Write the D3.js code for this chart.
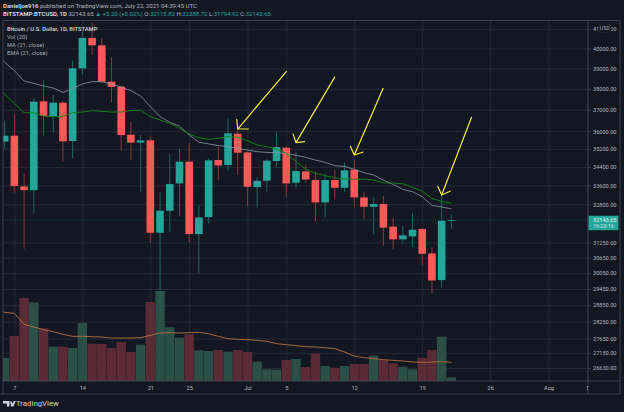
<!DOCTYPE html>
<html>
<head>
<meta charset="utf-8">
<script src="https://cdnjs.cloudflare.com/ajax/libs/d3/7.8.5/d3.min.js"></script>
<style>
html, body { margin: 0; padding: 0; background: #131722; overflow: hidden; }
text { font-family: Roboto, "Open Sans", sans-serif; }
.grid line { stroke: #2a2e39; stroke-width: 0.8; }
.grid .domain { display: none; }
.axis text { fill: #b2b5be; font-size: 5.6px; }
.axis line { stroke: #434651; stroke-width: 0.8; }
.axis .domain { display: none; }
</style>
</head>
<body>
<svg id="chart" width="624" height="412"></svg>
<script>
// first candle is Jun 6, the lines start one day earlier (clipped at the left edge)
var firstCandle = new Date(Date.UTC(2021, 5, 6))
var firstLine = new Date(Date.UTC(2021, 5, 5))

var openPrices = [35527, 35797, 33557, 33400, 37397, 36704, 37334, 35555, 39003, 40542,
    40162, 38345, 38105, 35842, 35484, 35585, 31634, 32535, 33686, 34632,
    31581, 32271, 34704, 34482, 35887, 35043, 33529, 33800, 34660, 35253,
    33715, 34206, 33830, 32881, 33830, 33500, 34279, 33092, 32700, 32813,
    31881, 31372, 31489, 31785, 30813, 29783, 32115.82]
var highPrices = [36488, 36799, 34088, 37540, 38428, 37702, 37413, 39384, 40865, 41330,
    40525, 39555, 38137, 36441, 35827, 35782, 33300, 34970, 35223, 35484,
    32728, 34778, 35298, 36611, 36133, 35073, 33972, 34748, 35948, 35298,
    35073, 34482, 34192, 34120, 34265, 34602, 34704, 33332, 33120, 33165,
    32244, 31929, 32424, 31853, 31060, 33260, 32388.72]
var lowPrices = [35223, 33286, 30995, 32424, 35797, 35948, 34632, 34778, 38724, 39670,
    38300, 37334, 35118, 34704, 33332, 31235, 28594, 31661, 32313, 31260,
    30064, 32011, 33830, 34236, 34048, 32700, 32673, 33332, 34380, 33120,
    33516, 33715, 32093, 32285, 33006, 33332, 32673, 32175, 31568, 31115,
    30995, 31195, 31075, 30370, 29280, 29495, 31794.92]
var closePrices = [35797, 33572, 33400, 37381, 36704, 37334, 35540, 39003, 40542, 40162,
    38345, 38092, 35827, 35484, 35585, 31634, 32535, 33657, 34632, 31581,
    32258, 34690, 34467, 35902, 35028, 33543, 33800, 34675, 35283, 33686,
    34220, 33858, 32881, 33830, 33500, 34250, 33092, 32700, 32813, 31840,
    31372, 31529, 31757, 30800, 29770, 32120, 32143.65]
var volumes = [2760, 5400, 9960, 9440, 6320, 4120, 4120, 3960, 6960, 4480,
    4440, 3960, 4680, 3480, 4360, 9480, 10800, 6440, 5200, 5600,
    3680, 3600, 3720, 3520, 3720, 3480, 2320, 1400, 1360, 2520,
    2640, 1680, 3280, 1800, 1600, 1800, 2040, 2040, 3040, 2520,
    2120, 1720, 1400, 2760, 3720, 5320, 440]

var maValues = [39790, 39302, 38888, 38377, 38264, 38137, 38040, 37815, 38024, 38232,
    38345, 38345, 38232, 38073, 37911, 37653, 37148, 36673, 36410, 36241,
    35827, 35499, 35425, 35350, 35298, 35223, 35148, 35073, 35043, 35028,
    34998, 34910, 34822, 34704, 34602, 34453, 34424, 34294, 34148, 34048,
    33830, 33643, 33430, 33332, 33120, 32756, 32687, 32618]
var emaValues = [38216, 37732, 37304, 36860, 36860, 36704, 36673, 36689, 36860, 36892,
    36955, 36924, 36892, 36892, 36970, 36970, 36673, 36519, 36364, 36133,
    35872, 35707, 35632, 35677, 35752, 35722, 35570, 35373, 35298, 35193,
    34998, 34632, 34308, 34120, 34019, 33932, 33873, 33859, 33873, 33830,
    33715, 33700, 33672, 33516, 33360, 33048, 32923, 32853]
var volMaValues = [8360, 8240, 8120, 6800, 6480, 6160, 5920, 5600, 5360, 5360,
    5320, 5280, 5160, 5160, 5160, 5200, 5480, 5760, 5800, 5760,
    5800, 5840, 5680, 5360, 5080, 5000, 4960, 4880, 4760, 4480,
    4360, 4240, 4120, 4080, 4000, 3880, 3480, 3000, 2800, 2680,
    2560, 2480, 2400, 2280, 2240, 2280, 2320, 2240]

var priceTicks = [41000, 40000, 39000, 38000, 37000, 36000, 35200, 34400, 33600, 32800,
    31250, 30650, 30050, 29450, 28850, 28250, 27650, 27150, 26630]
var timeTicks = [new Date(Date.UTC(2021, 5, 7)), new Date(Date.UTC(2021, 5, 14)),
    new Date(Date.UTC(2021, 5, 21)), new Date(Date.UTC(2021, 5, 25)),
    new Date(Date.UTC(2021, 6, 1)), new Date(Date.UTC(2021, 6, 5)),
    new Date(Date.UTC(2021, 6, 12)), new Date(Date.UTC(2021, 6, 19)),
    new Date(Date.UTC(2021, 6, 26)), new Date(Date.UTC(2021, 7, 1)),
    new Date(Date.UTC(2021, 7, 5))]
var timeLabels = ["7", "14", "21", "25", "Jul", "5", "12", "19", "26", "Aug", "5"]

var lastPrice = 32143.65

// arrows hang off a day and a price, the rest of the stroke is hand drawn
var arrowTips = [{ day: new Date(Date.UTC(2021, 5, 30)), price: 36102 },
                 { day: new Date(Date.UTC(2021, 6, 6)), price: 35484 },
                 { day: new Date(Date.UTC(2021, 6, 12)), price: 34926 },
                 { day: new Date(Date.UTC(2021, 6, 21)), price: 33190 }]

var left = 3, top_ = 20.5, right = 588, bottom = 381, axisBottom = 394, outer = 620
var bg = "#131722", up = "#26a69a", down = "#f85a58"

var x = d3.scaleUtc()
    .domain([new Date(Date.UTC(2021, 5, 7)), new Date(Date.UTC(2021, 7, 5))])
    .range([14.4, 587.3])
var y = d3.scaleLog().domain([26630, 40000]).range([368, 48.5])
var yVol = d3.scaleLinear().domain([0, 12000]).range([bottom, 281])

var candles = openPrices.map(function(o, i) {
    return { day: d3.utcDay.offset(firstCandle, i), open: o, high: highPrices[i], low: lowPrices[i], close: closePrices[i], vol: volumes[i] }
})
var lineDay = function(i) { return d3.utcDay.offset(firstLine, i) }

var svg = d3.select("#chart")

svg.append("rect").attr("width", 624).attr("height", 412).attr("fill", bg)

svg.append("clipPath").attr("id", "plot")
    .append("rect").attr("x", left).attr("y", top_).attr("width", right - left).attr("height", bottom - top_)
svg.append("clipPath").attr("id", "timeClip")
    .append("rect").attr("x", left).attr("y", bottom).attr("width", right - left).attr("height", axisBottom - bottom)

// grid
svg.append("g").attr("class", "grid")
    .attr("transform", "translate(" + left + ",0)")
    .call(d3.axisLeft(y).tickValues(priceTicks).tickSize(-(right - left)).tickFormat(""))
svg.append("g").attr("class", "grid")
    .attr("transform", "translate(0," + bottom + ")")
    .call(d3.axisBottom(x).tickValues(timeTicks).tickSize(-(bottom - top_)).tickFormat(""))
svg.append("line").attr("x1", left).attr("x2", right)
    .attr("y1", y(lastPrice)).attr("y2", y(lastPrice))
    .attr("stroke", up).attr("stroke-opacity", 0.45).attr("stroke-width", 0.7).attr("stroke-dasharray", "1,1")

var plot = svg.append("g").attr("clip-path", "url(#plot)")

// volume
plot.selectAll("rect.vol").data(candles).enter().append("rect")
    .attr("class", "vol")
    .attr("x", function(d) { return x(d.day) - 4.7 })
    .attr("width", 9.4)
    .attr("y", function(d) { return yVol(d.vol) })
    .attr("height", function(d) { return bottom - yVol(d.vol) })
    .attr("fill", function(d) { return d.close >= d.open ? "#2a4f47" : "#5c2a36" })

var line = function(scale) {
    return d3.line().x(function(d, i) { return x(lineDay(i)) }).y(function(d) { return scale(d) })
}
plot.append("path").attr("d", line(yVol)(volMaValues))
    .attr("fill", "none").attr("stroke", "#b5713c").attr("stroke-width", 0.9)

// candles
plot.selectAll("line.wick").data(candles).enter().append("line")
    .attr("class", "wick")
    .attr("x1", function(d) { return x(d.day) }).attr("x2", function(d) { return x(d.day) })
    .attr("y1", function(d) { return y(d.high) }).attr("y2", function(d) { return y(d.low) })
    .attr("stroke", function(d) { return d.close >= d.open ? "#1c6f68" : "#9a3a40" })
    .attr("stroke-width", 0.9)
plot.selectAll("rect.body").data(candles).enter().append("rect")
    .attr("class", "body")
    .attr("x", function(d) { return x(d.day) - 3.8 })
    .attr("width", 7.6)
    .attr("y", function(d) { return y(Math.max(d.open, d.close)) })
    .attr("height", function(d) { return Math.max(0.7, Math.abs(y(d.open) - y(d.close))) })
    .attr("fill", function(d) { return d.close >= d.open ? up : down })

plot.append("path").attr("d", line(y)(maValues))
    .attr("fill", "none").attr("stroke", "#8c97ab").attr("stroke-width", 0.8)
plot.append("path").attr("d", line(y)(emaValues))
    .attr("fill", "none").attr("stroke", "#0d8a12").attr("stroke-width", 0.9)

// yellow arrows: [tail, head end 1, head end 2] as offsets from the tip
var arrowStrokes = [[[49, -58], [-1, -10], [11, 0]],
                    [[39, -66], [-3, -9], [9, -1]],
                    [[29, -67], [-4, -9], [9, -3]],
                    [[30, -78], [-4, -9], [9, -4]]]
arrowTips.forEach(function(tip, i) {
    var tx = x(tip.day), ty = y(tip.price), s = arrowStrokes[i]
    svg.append("path")
        .attr("d", "M" + (tx + s[0][0]) + "," + (ty + s[0][1]) + "L" + tx + "," + ty +
            "M" + (tx + s[1][0]) + "," + (ty + s[1][1]) + "L" + tx + "," + ty + "L" + (tx + s[2][0]) + "," + (ty + s[2][1]))
        .attr("fill", "none").attr("stroke", "#f5ea3a").attr("stroke-width", 1.2)
})

// frame
var frame = [[left, top_, outer, top_], [left, top_, left, axisBottom], [right, top_, right, axisBottom],
             [left, bottom, outer, bottom], [0, axisBottom, outer, axisBottom], [outer, top_, outer, axisBottom]]
svg.selectAll("line.frame").data(frame).enter().append("line")
    .attr("class", "frame")
    .attr("x1", function(d) { return d[0] }).attr("y1", function(d) { return d[1] })
    .attr("x2", function(d) { return d[2] }).attr("y2", function(d) { return d[3] })
    .attr("stroke", "#434651").attr("stroke-width", 0.9)

// axes
svg.append("g").attr("class", "axis")
    .attr("transform", "translate(" + right + ",0)")
    .call(d3.axisRight(y).tickValues(priceTicks).tickSize(3).tickPadding(2).tickFormat(d3.format(".2f")))
var timeAxis = svg.append("g").attr("class", "axis").attr("clip-path", "url(#timeClip)")
    .append("g").attr("transform", "translate(0," + bottom + ")")
    .call(d3.axisBottom(x).tickValues(timeTicks).tickSize(0).tickPadding(5)
        .tickFormat(function(d, i) { return timeLabels[i] }))

// USD pill and last price tag
svg.append("rect").attr("x", 598.5).attr("y", 24).attr("width", 12.5).attr("height", 8.4).attr("rx", 3)
    .attr("fill", bg).attr("stroke", "#2a2e39").attr("stroke-width", 0.6)
svg.append("text").attr("x", 604.8).attr("y", 30).attr("text-anchor", "middle")
    .attr("fill", "#b2b5be").style("font-size", "5.2px").text("USD")
svg.append("rect").attr("x", 588.5).attr("y", y(lastPrice) - 4.5).attr("width", 30).attr("height", 14.5).attr("fill", up)
svg.append("text").attr("x", 593).attr("y", y(lastPrice) + 2).attr("fill", "#e8f5f3").style("font-size", "5.6px").text(d3.format(".2f")(lastPrice))
svg.append("text").attr("x", 593).attr("y", y(lastPrice) + 8).attr("fill", "#c4e6e2").style("font-size", "5.4px").text("19:20:16")

// header
svg.append("text").attr("x", 3).attr("y", 8).attr("fill", "#b2b5be").style("font-size", "6px")
    .html('<tspan font-weight="700" fill="#d1d4dc">Danieljoe916</tspan> published on TradingView.com, July 22, 2021 04:39:45 UTC')
svg.append("text").attr("x", 3).attr("y", 16).attr("fill", up).style("font-size", "6px")
    .html('<tspan font-weight="700" fill="#d1d4dc">BITSTAMP:BTCUSD, 1D</tspan> <tspan fill="#b2b5be">32143.65</tspan> ▲ +5.20 (+0.02%) <tspan fill="#b2b5be">O:</tspan>32115.82 <tspan fill="#b2b5be">H:</tspan>32388.72 <tspan fill="#b2b5be">L:</tspan>31794.92 <tspan fill="#b2b5be">C:</tspan>32143.65')

// legend
var legend = ["Bitcoin / U.S. Dollar, 1D, BITSTAMP", "Vol (20)", "MA (21, close)", "EMA (21, close)"]
svg.selectAll("text.legend").data(legend).enter().append("text")
    .attr("class", "legend")
    .attr("x", 7).attr("y", function(d, i) { return 30.5 + i * 8 })
    .attr("fill", function(d, i) { return i == 0 ? "#d1d4dc" : "#a9acb5" })
    .style("font-size", "5.8px").style("font-weight", function(d, i) { return i == 0 ? 500 : 400 })
    .text(function(d) { return d })

// footer logo
svg.append("path").attr("d", "M3,401h6.5v5.5h-2.6v-3h-3.9zM10,401.5h1.6l1,2.2l1.2,-2.7h2l-2.5,5.5h-2z").attr("fill", "#d1d4dc")
svg.append("text").attr("x", 16).attr("y", 406).attr("fill", "#d1d4dc").style("font-size", "7.8px").text("TradingView")
</script>
</body>
</html>
